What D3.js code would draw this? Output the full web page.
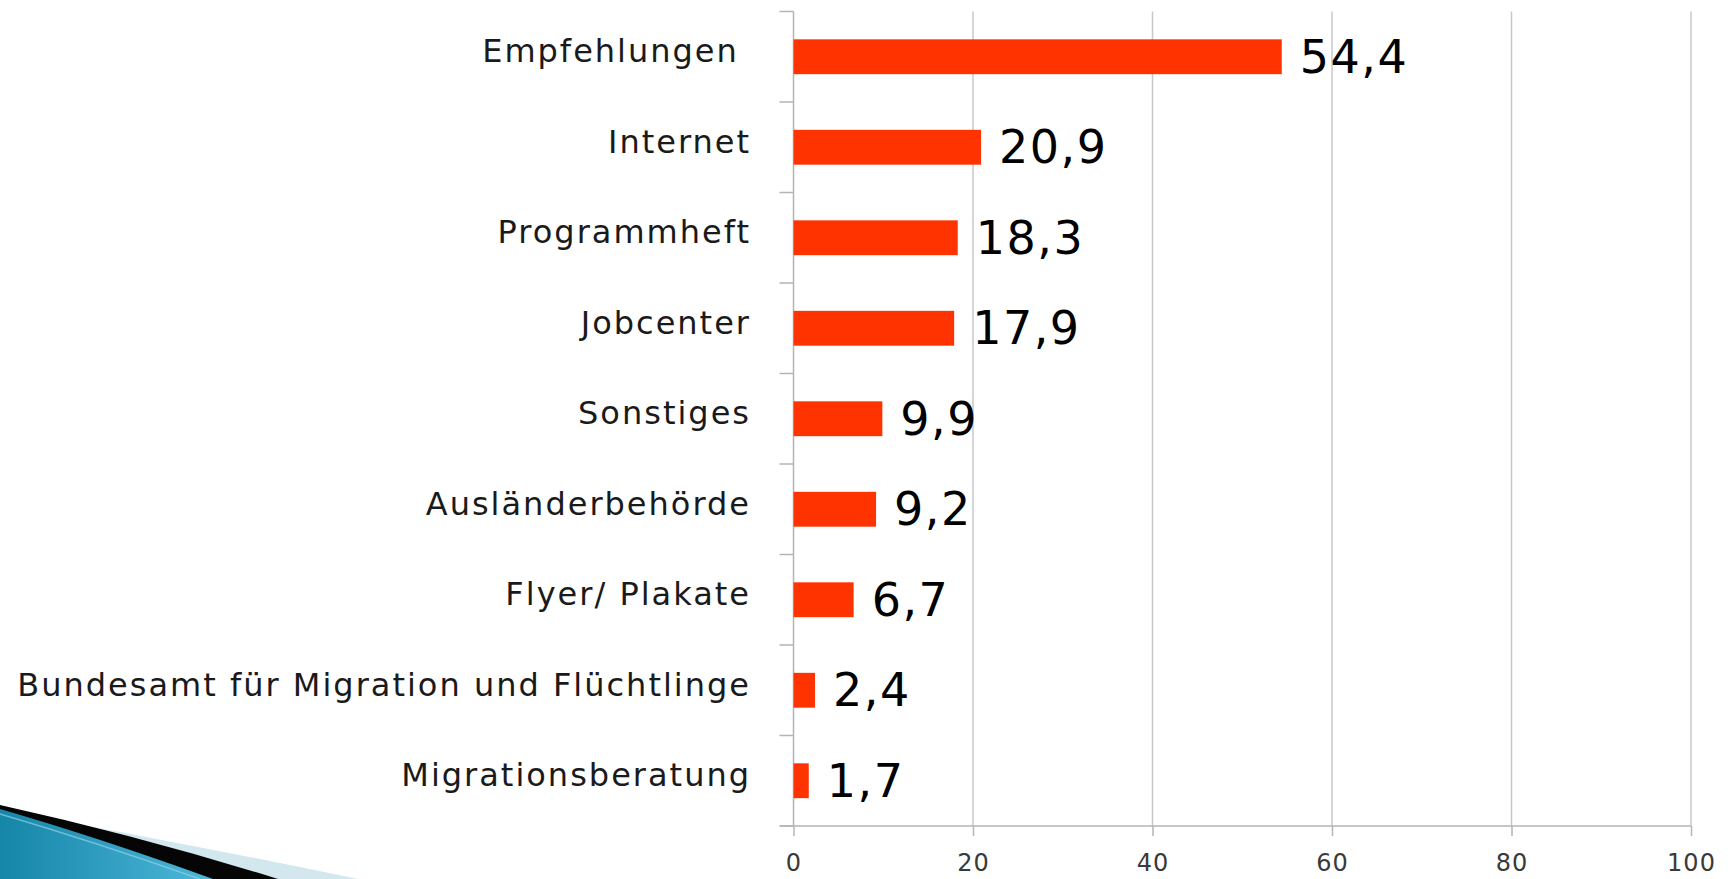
<!DOCTYPE html>
<meta charset="utf-8">
<html>
<head>
<script src="https://d3js.org/d3.v7.min.js"></script>
<style>
body { margin: 0; background: #ffffff; overflow: hidden; }
.cat { font-family: "DejaVu Sans", sans-serif; font-size: 32px; letter-spacing: 2px; fill: #1a1a1a; }
.val { font-family: "DejaVu Sans", sans-serif; font-size: 46px; letter-spacing: 1.5px; fill: #000; }
.tick text { font-family: "DejaVu Sans", sans-serif; font-size: 24px; letter-spacing: 1px; fill: #3a3a3a; }
</style>
</head>
<body>
<div id="chart"></div>
<script>

// data
var categories = ["Empfehlungen ", "Internet", "Programmheft", "Jobcenter", "Sonstiges",
                  "Ausländerbehörde", "Flyer/ Plakate", "Bundesamt für Migration und Flüchtlinge", "Migrationsberatung"];
var values = [54.4, 20.9, 18.3, 17.9, 9.9, 9.2, 6.7, 2.4, 1.7];
var xTicks = [0, 20, 40, 60, 80, 100];

var W = 1733, H = 879;

var svg = d3.select("#chart")
  .append("svg")
    .attr("width", W)
    .attr("height", H);

var data = categories.map(function(c, i) { return {cat: c, v: values[i]}; });

// scales
var x = d3.scaleLinear()
    .domain([0, 100])
    .range([793.5, 1691]);

var y = d3.scaleBand()
    .domain(categories)
    .range([11.5, 826])
    .paddingInner(0.615)
    .paddingOuter(0.3075);

var step = y.step();
var y0 = y.range()[0], y1 = y.range()[1];

// decoration bottom left
var defs = svg.append("defs");
var grad = defs.append("linearGradient")
    .attr("id", "swoosh")
    .attr("x1", "0").attr("y1", "0").attr("x2", "1").attr("y2", "0");
grad.append("stop").attr("offset", "0%").attr("stop-color", "#1585a8");
grad.append("stop").attr("offset", "100%").attr("stop-color", "#4db8da");

svg.append("path")
  .attr("d", "M0,810 Q180,842 358,879 L0,879 Z")
  .attr("fill", "#d3e7ef");
svg.append("path")
  .attr("d", "M0,805 Q140,836 278,879 L0,879 Z")
  .attr("fill", "#050505");
svg.append("path")
  .attr("d", "M0,809 Q100,838 213,879 L0,879 Z")
  .attr("fill", "url(#swoosh)");
svg.append("path")
  .attr("d", "M0,814 Q95,842 200,879")
  .attr("fill", "none")
  .attr("stroke", "#8fd0e6")
  .attr("stroke-width", 1.5)
  .attr("opacity", 0.7);

// gridlines
svg.append("g")
  .selectAll("line")
  .data(xTicks.filter(function(d) { return d > 0; }))
  .enter()
  .append("line")
    .attr("x1", function(d) { return x(d); })
    .attr("x2", function(d) { return x(d); })
    .attr("y1", y0)
    .attr("y2", y1)
    .attr("stroke", "#c8c8c8")
    .attr("stroke-width", 1.5);

// x axis
var xAxis = svg.append("g")
  .attr("transform", "translate(0," + y1 + ")")
  .call(d3.axisBottom(x).tickValues(xTicks).tickSize(10).tickSizeOuter(0));
xAxis.select(".domain").remove();
xAxis.selectAll(".tick line").attr("stroke", "#b5b5b5").attr("stroke-width", 1.5);
xAxis.selectAll(".tick text").attr("y", 45).attr("dy", null);
xAxis.append("line")
  .attr("x1", 780).attr("x2", x(100))
  .attr("y1", 0).attr("y2", 0)
  .attr("stroke", "#b5b5b5").attr("stroke-width", 1.5);

// y axis line + band ticks
svg.append("line")
  .attr("x1", x(0)).attr("x2", x(0))
  .attr("y1", y0).attr("y2", y1)
  .attr("stroke", "#b5b5b5").attr("stroke-width", 1.5);
svg.append("g")
  .selectAll("line")
  .data(d3.range(categories.length + 1))
  .enter()
  .append("line")
    .attr("x1", x(0) - 14)
    .attr("x2", x(0))
    .attr("y1", function(i) { return y0 + i * step; })
    .attr("y2", function(i) { return y0 + i * step; })
    .attr("stroke", "#b5b5b5")
    .attr("stroke-width", 1.5);

// bars
svg.append("g")
  .selectAll("rect")
  .data(data)
  .enter()
  .append("rect")
    .attr("x", x(0))
    .attr("y", function(d) { return y(d.cat); })
    .attr("width", function(d) { return x(d.v) - x(0); })
    .attr("height", y.bandwidth())
    .style("fill", "#ff3300");

// category labels
svg.append("g")
  .selectAll("text")
  .data(data)
  .enter()
  .append("text")
    .attr("class", "cat")
    .attr("xml:space", "preserve")
    .attr("text-anchor", "end")
    .attr("x", 751)
    .attr("y", function(d) { return y(d.cat) + y.bandwidth() / 2 + 5.5; })
    .text(function(d) { return d.cat; });

// value labels
svg.append("g")
  .selectAll("text")
  .data(data)
  .enter()
  .append("text")
    .attr("class", "val")
    .attr("x", function(d) { return x(d.v) + 18; })
    .attr("y", function(d) { return y(d.cat) + y.bandwidth() / 2 + 16; })
    .text(function(d) { return d3.format(".1f")(d.v).replace(".", ","); });

</script>
</body>
</html>
